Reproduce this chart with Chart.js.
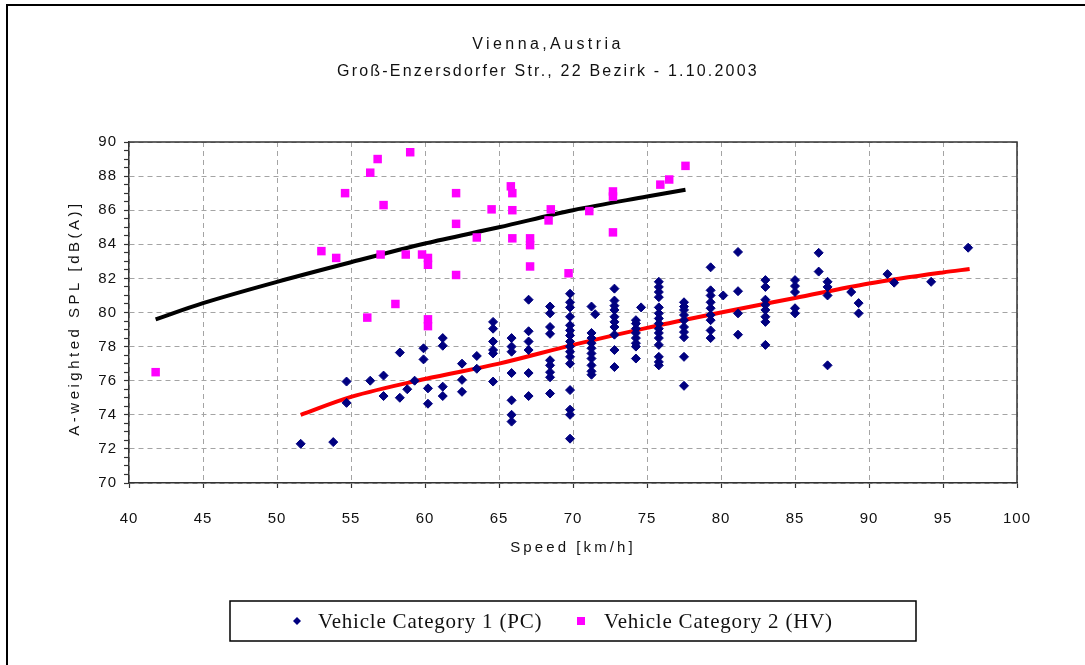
<!DOCTYPE html>
<html>
<head>
<meta charset="utf-8">
<script src="https://cdn.jsdelivr.net/npm/chart.js@4.4.0/dist/chart.umd.min.js"></script>
<style>
  html, body { margin: 0; padding: 0; background: #fff; }
  #wrap { width: 1085px; height: 665px; position: relative; }
</style>
</head>
<body>
<div id="wrap"><canvas id="c" width="1085" height="665"></canvas></div>
<script>
// ---- text ----
const titleLine = 'Vienna,Austria';
const subtitleLine = 'Groß-Enzersdorfer Str., 22 Bezirk - 1.10.2003';
const xAxisTitle = 'Speed [km/h]';
const yAxisTitle = 'A-weighted SPL [dB(A)]';
const seriesNames = ['Vehicle Category 1 (PC)', 'Vehicle Category 2 (HV)'];

// ---- passenger cars: measured pass-bys, grouped by speed ----
const pcColumnSpeed = [51.6, 53.8, 54.7, 56.3, 57.2, 58.3, 58.8, 59.3, 59.9, 60.2,
  61.2, 62.5, 63.5, 64.6, 65.85, 67.0, 68.45, 69.8, 71.25, 71.5,
  72.8, 74.25, 74.6, 75.8, 77.5, 79.3, 80.15, 81.15, 83.0, 85.0,
  86.6, 87.2, 88.8, 89.3, 91.25, 91.7, 94.2, 96.7];
const pcColumnLevels = [
  [72.3], [72.4], [75.95, 74.7], [76.0], [76.3, 75.1], [77.65, 75.0], [75.5], [76.0],
  [77.9, 77.25], [75.55, 74.65],
  [78.5, 78.05, 75.65, 75.1],
  [77.0, 76.05, 75.35],
  [77.45, 76.7],
  [79.45, 79.05, 78.3, 77.8, 77.6, 75.95],
  [78.5, 78.0, 77.7, 76.45, 74.85, 74.0, 73.6],
  [80.75, 78.9, 78.3, 77.8, 76.45, 75.1],
  [80.35, 79.95, 79.15, 78.75, 77.2, 76.9, 76.5, 76.2, 75.25],
  [81.1, 80.6, 80.3, 79.75, 79.25, 78.95, 78.65, 78.3, 78.0, 77.7, 77.4, 77.0, 75.45, 74.3, 74.0, 72.6],
  [80.35, 78.8, 78.5, 78.2, 77.9, 77.6, 77.3, 76.9, 76.55, 76.35],
  [79.9],
  [81.4, 80.7, 80.4, 80.15, 79.75, 79.45, 79.15, 78.7, 77.8, 76.8],
  [79.55, 79.35, 79.05, 78.8, 78.5, 78.2, 78.0, 77.3],
  [80.3],
  [81.8, 81.5, 81.2, 80.9, 80.3, 79.95, 79.65, 79.35, 79.05, 78.8, 78.5, 78.1, 77.4, 77.1, 76.9],
  [80.6, 80.35, 80.15, 79.85, 79.55, 79.15, 78.85, 78.55, 77.4, 75.7],
  [82.65, 81.3, 81.0, 80.6, 80.25, 79.85, 79.55, 78.95, 78.5],
  [81.0],
  [83.55, 81.25, 79.95, 78.7],
  [81.9, 81.5, 80.75, 80.45, 80.15, 79.75, 79.45, 78.1],
  [81.9, 81.55, 81.2, 80.25, 79.95],
  [83.5, 82.4],
  [81.8, 81.5, 81.0, 76.9],
  [81.2],
  [80.55, 79.95],
  [82.25], [81.75], [81.8], [83.8]
];

// ---- heavy vehicles: measured pass-bys ----
const hvSpeed = [41.8, 53.0, 54.0, 54.6, 56.1, 56.3, 56.8, 57.0, 57.2, 58.0,
  58.7, 59.0, 59.8, 60.2, 60.2, 60.2, 60.2, 62.1, 62.1, 62.1,
  63.5, 64.5, 65.8, 65.9, 65.9, 65.9, 67.1, 67.1, 67.1, 68.35,
  68.5, 69.7, 71.1, 72.7, 72.7, 72.7, 75.9, 76.5, 77.6];
const hvLevel = [76.5, 83.6, 83.2, 87.0, 79.7, 88.2, 89.0, 83.4, 86.3, 80.5,
  83.4, 89.4, 83.4, 83.2, 82.8, 79.6, 79.2, 87.0, 85.2, 82.2,
  84.4, 86.05, 87.4, 87.0, 86.0, 84.35, 84.35, 83.95, 82.7, 85.4,
  86.05, 82.3, 85.95, 87.1, 86.8, 84.7, 87.5, 87.8, 88.6];

// ---- regression curves ----
const hvFitSpeed = [41.8, 45, 50, 55, 60, 65, 70, 75, 77.6];
const hvFitLevel = [79.6, 80.55, 81.8, 82.95, 84.05, 85.0, 86.0, 86.8, 87.2];
const pcFitSpeed = [51.6, 55, 60, 65, 70, 75, 80, 85, 90, 95, 96.8];
const pcFitLevel = [74.0, 75.05, 76.1, 77.0, 78.1, 79.1, 80.0, 80.85, 81.7, 82.35, 82.55];

// ---- axes ----
const xMin = 40, xMax = 100, xStep = 5;
const yMin = 70, yMax = 90, yStep = 0.5, yLabelStep = 2;

const toPoints = (xs, ys) => xs.map((x, i) => ({ x, y: ys[i] }));
const pcPoints = [];
pcColumnSpeed.forEach((s, i) => pcColumnLevels[i].forEach(v => pcPoints.push({ x: s, y: v })));

const PC_COLOR = '#000080';
const HV_COLOR = '#ff00ff';
const GRID = '#a4a4a4';
const AXIS = '#333333';
const SANS = '"Liberation Sans", Arial, sans-serif';
const SERIF = '"Liberation Serif", "Times New Roman", serif';

function spacedText(ctx, text, x, y, font, spacing, align, rotate) {
  ctx.save();
  ctx.font = font;
  ctx.letterSpacing = spacing + 'px';
  ctx.fillStyle = '#111';
  ctx.textAlign = align;
  ctx.textBaseline = 'middle';
  ctx.translate(x, y);
  if (rotate) ctx.rotate(rotate);
  ctx.fillText(text, 0, 0);
  ctx.restore();
}

const decor = {
  id: 'decor',
  beforeDraw(chart) {
    const ctx = chart.ctx;
    ctx.save();
    ctx.fillStyle = '#fff';
    ctx.fillRect(0, 0, chart.width, chart.height);
    ctx.restore();
    // tick labels are drawn a little spaced out
    ctx.letterSpacing = '1px';
  },
  beforeDatasetsDraw(chart) {
    const { ctx, chartArea: a } = chart;
    ctx.save();
    ctx.strokeStyle = AXIS;
    ctx.lineWidth = 1.5;
    ctx.beginPath();
    ctx.moveTo(a.left, a.top);
    ctx.lineTo(a.right, a.top);
    ctx.lineTo(a.right, a.bottom);
    ctx.stroke();
    ctx.restore();
  },
  afterDraw(chart) {
    const { ctx, chartArea: a } = chart;
    ctx.save();
    ctx.letterSpacing = '0px';
    // outer frame (left and top edges)
    ctx.strokeStyle = '#000';
    ctx.lineWidth = 2;
    ctx.beginPath();
    ctx.moveTo(7, chart.height);
    ctx.lineTo(7, 5);
    ctx.lineTo(chart.width, 5);
    ctx.stroke();

    // titles
    spacedText(ctx, titleLine, 548, 45, '16px ' + SANS, 3.4, 'center');
    spacedText(ctx, subtitleLine, 548, 72, '16px ' + SANS, 2.2, 'center');
    spacedText(ctx, xAxisTitle, (a.left + a.right) / 2, 548, '15px ' + SANS, 3.1, 'center');
    spacedText(ctx, yAxisTitle, 75, 318, '15px ' + SANS, 3.5, 'center', -Math.PI / 2);

    // legend box
    const lx = 230, ly = 601, lw = 686, lh = 40, cy = ly + lh / 2;
    ctx.strokeStyle = '#000';
    ctx.lineWidth = 1.5;
    ctx.strokeRect(lx, ly, lw, lh);
    // PC marker
    ctx.fillStyle = PC_COLOR;
    ctx.beginPath();
    ctx.moveTo(297, cy - 4); ctx.lineTo(301, cy); ctx.lineTo(297, cy + 4); ctx.lineTo(293, cy);
    ctx.closePath(); ctx.fill();
    // HV marker
    ctx.fillStyle = HV_COLOR;
    ctx.fillRect(577, cy - 4, 8, 8);
    spacedText(ctx, seriesNames[0], 318, cy + 1, '21px ' + SERIF, 0.8, 'left');
    spacedText(ctx, seriesNames[1], 604, cy + 1, '21px ' + SERIF, 0.8, 'left');
    ctx.restore();
  }
};

const isMajorY = v => Math.abs(v / yLabelStep - Math.round(v / yLabelStep)) < 1e-6;

new Chart(document.getElementById('c'), {
  type: 'scatter',
  data: {
    datasets: [
      {
        label: seriesNames[0],
        data: pcPoints,
        pointStyle: 'rectRot',
        pointRadius: 4.5,
        backgroundColor: PC_COLOR,
        borderColor: PC_COLOR,
        borderWidth: 1
      },
      {
        label: seriesNames[1],
        data: toPoints(hvSpeed, hvLevel),
        pointStyle: 'rect',
        pointRadius: 6,
        backgroundColor: HV_COLOR,
        borderColor: HV_COLOR,
        borderWidth: 0
      },
      {
        label: 'HV regression',
        data: toPoints(hvFitSpeed, hvFitLevel),
        showLine: true,
        pointRadius: 0,
        borderColor: '#000',
        borderWidth: 4,
        cubicInterpolationMode: 'monotone'
      },
      {
        label: 'PC regression',
        data: toPoints(pcFitSpeed, pcFitLevel),
        showLine: true,
        pointRadius: 0,
        borderColor: '#ff0000',
        borderWidth: 4,
        cubicInterpolationMode: 'monotone'
      }
    ]
  },
  options: {
    responsive: false,
    animation: false,
    devicePixelRatio: 1,
    layout: { padding: { top: 142, left: 0, right: 68, bottom: 142 } },
    plugins: {
      legend: { display: false },
      title: { display: false },
      tooltip: { enabled: false }
    },
    scales: {
      x: {
        type: 'linear',
        min: xMin, max: xMax,
        afterFit: s => { s.height = 40; },
        ticks: { stepSize: xStep, color: '#111', font: { family: SANS, size: 15 }, padding: 22, maxRotation: 0 },
        grid: { color: GRID, lineWidth: 1, tickLength: 5, tickColor: AXIS, tickWidth: 1.2 },
        border: { display: true, color: AXIS, width: 1.5, dash: [5, 4] }
      },
      y: {
        type: 'linear',
        min: yMin, max: yMax,
        afterFit: s => { s.width = 129; },
        ticks: {
          stepSize: yStep, autoSkip: false, color: '#111',
          font: { family: SANS, size: 15 }, padding: 7,
          callback: v => isMajorY(v) ? String(v) : ''
        },
        grid: {
          color: c => (c.tick && isMajorY(c.tick.value)) ? GRID : 'rgba(0,0,0,0)',
          lineWidth: 1, tickLength: 5, tickColor: AXIS, tickWidth: 1.2
        },
        border: { display: true, color: AXIS, width: 1.5, dash: [5, 4] }
      }
    }
  },
  plugins: [decor]
});
</script>
</body>
</html>
